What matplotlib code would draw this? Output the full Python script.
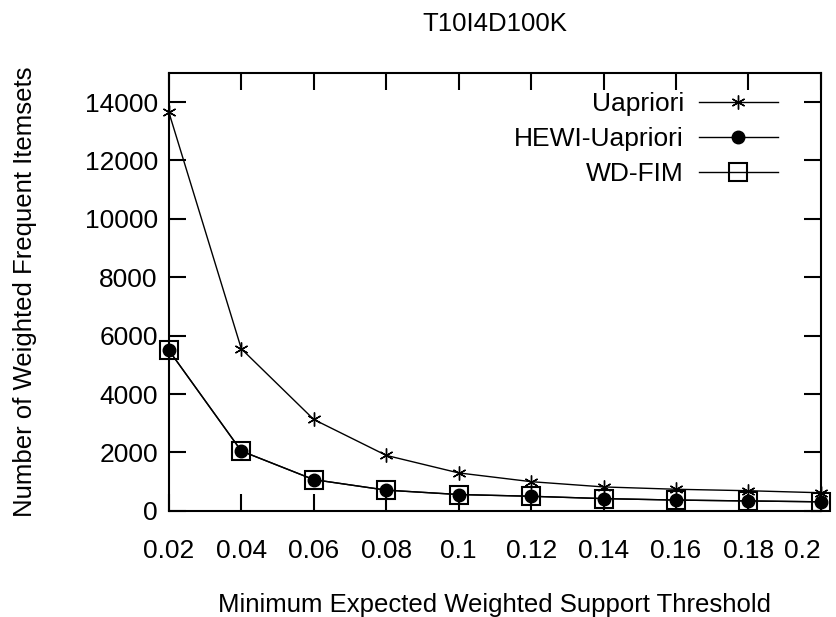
import matplotlib
matplotlib.use("Agg")
import matplotlib.pyplot as plt

plt.rcParams["font.family"] = ["Liberation Sans", "DejaVu Sans"]

thresholds = [0.02, 0.04, 0.06, 0.08, 0.10, 0.12, 0.14, 0.16, 0.18, 0.20]
uapriori = [13650, 5550, 3130, 1900, 1300, 1000, 820, 740, 690, 620]
hewi_uapriori = [5500, 2050, 1070, 710, 560, 500, 420, 370, 340, 310]
wd_fim = [5500, 2050, 1070, 710, 560, 500, 420, 370, 340, 310]

x_ticks = [0.02, 0.04, 0.06, 0.08, 0.1, 0.12, 0.14, 0.16, 0.18, 0.2]
x_tick_labels = ["0.02", "0.04", "0.06", "0.08", "0.1", "0.12", "0.14", "0.16", "0.18", "0.2"]
y_ticks = [0, 2000, 4000, 6000, 8000, 10000, 12000, 14000]

fig = plt.figure(figsize=(8.36, 6.17), dpi=100)
ax = fig.add_axes([0.202, 0.172, 0.780, 0.710])

ax.plot(thresholds, uapriori, color="black", lw=1.0, marker=(6, 2, 0),
        ms=10, mew=1.0, label="Uapriori", clip_on=False, zorder=3)
ax.plot(thresholds, hewi_uapriori, color="black", lw=1.0, marker="o",
        ms=9, label="HEWI-Uapriori", clip_on=False, zorder=4)
ax.plot(thresholds, wd_fim, color="black", lw=1.0, marker="s", ms=13,
        mfc="none", mew=1.5, label="WD-FIM", clip_on=False, zorder=5)

ax.set_xlim(0.02, 0.2)
ax.set_ylim(0, 15000)
ax.set_xticks(x_ticks)
ax.set_xticklabels(x_tick_labels)
ax.set_yticks(y_ticks)
ax.tick_params(direction="in", length=12, width=1.5, labelsize=19,
               top=True, right=True)
ax.tick_params(axis="x", pad=20)
ax.tick_params(axis="y", pad=8)
for s in ax.spines.values():
    s.set_linewidth(1.5)

# keep the last x label inside the figure
ax.xaxis.get_major_ticks()[-1].label1.set_horizontalalignment("right")

ax.set_title("T10I4D100K", fontsize=18.5, pad=30)
ax.set_xlabel("Minimum Expected Weighted Support Threshold", fontsize=18.5, labelpad=22)
ax.set_ylabel("Number of Weighted Frequent Itemsets", fontsize=18.5, labelpad=34)

ax.legend(loc="upper right", bbox_to_anchor=(0.95, 0.98), borderaxespad=0,
          frameon=False, markerfirst=False, fontsize=19,
          handlelength=3.0, labelspacing=0.42, handletextpad=0.55)

fig.savefig("out.png", dpi=100)
